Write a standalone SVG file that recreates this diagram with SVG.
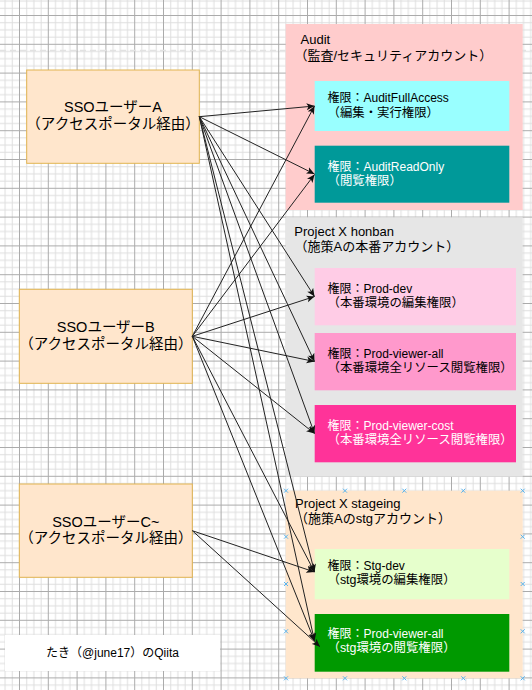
<svg xmlns="http://www.w3.org/2000/svg" width="532" height="690" viewBox="0 0 532 690">
<style>
.t{font-family:"Liberation Sans","Noto Sans CJK JP",sans-serif;font-size:12px;fill:#000}
.j{font-size:12.4px}
.w{fill:#fff}
.s{font-size:14.5px}
.h{font-size:13px}
.c{text-anchor:middle}
.e{fill:none;stroke:#222;stroke-width:1;marker-end:url(#ar)}
.x{stroke:#5ab4ee;stroke-width:1;fill:none}
.sso{fill:#ffe6cc;stroke:#e2b450;stroke-width:1}
</style>
<defs>
<pattern id="gm" x="19" y="15" width="28.8" height="28.8" patternUnits="userSpaceOnUse">
<path d="M7.7 0V28.8M14.9 0V28.8M22.1 0V28.8M0 7.7H28.8M0 14.9H28.8M0 22.1H28.8" stroke="#dedede" stroke-width="1"/>
<path d="M0.5 0V28.8M0 0.5H28.8" stroke="#ababab" stroke-width="1"/>
</pattern>
<marker id="ar" markerWidth="9" markerHeight="8" refX="8" refY="4" orient="auto" markerUnits="userSpaceOnUse">
<path d="M0,0.5 L8,4 L0,7.5 L2,4 z" fill="#111"/>
</marker>
</defs>
<rect width="532" height="690" fill="#fff"/>
<rect width="532" height="690" fill="url(#gm)"/>
<path d="M0 50.5H532" stroke="#e2e2e2" stroke-width="1.5" stroke-dasharray="6 4"/>

<g id="audit">
<rect x="285.7" y="24" width="237" height="186" fill="#ffcccc"/>
<text class="t h" x="300.5" y="44">Audit</text>
<text class="t h" x="294.5" y="59.5">（監査/セキュリティアカウント）</text>
</g>
<g id="audit-full">
<rect x="314.7" y="81" width="194.6" height="50" fill="#99ffff"/>
<text class="t" x="327.5" y="102.3">権限：AuditFullAccess</text>
<text class="t j" x="327.5" y="116.7">（編集・実行権限）</text>
</g>
<g id="audit-read">
<rect x="314.7" y="145.7" width="194.6" height="57" fill="#009999"/>
<text class="t w" x="327.5" y="170.5">権限：AuditReadOnly</text>
<text class="t j w" x="327.5" y="185.2">（閲覧権限）</text>
</g>

<g id="honban">
<rect x="285.7" y="217.3" width="237" height="259.4" fill="#e6e6e6"/>
<text class="t h" x="294.3" y="236">Project X honban</text>
<text class="t h" x="294.5" y="251">（施策Aの本番アカウント）</text>
</g>
<g id="prod-dev">
<rect x="314.7" y="268" width="201.3" height="57.3" fill="#ffcce6"/>
<text class="t" x="327.5" y="292.7">権限：Prod-dev</text>
<text class="t j" x="327.5" y="307">（本番環境の編集権限）</text>
</g>
<g id="prod-viewer-all">
<rect x="314.7" y="333" width="201.3" height="57.3" fill="#ff99cc"/>
<text class="t" x="327.5" y="357.7">権限：Prod-viewer-all</text>
<text class="t j" x="327.5" y="372.3">（本番環境全リソース閲覧権限）</text>
</g>
<g id="prod-viewer-cost">
<rect x="314.7" y="405" width="201.3" height="57.3" fill="#ff3399"/>
<text class="t w" x="327.5" y="430">権限：Prod-viewer-cost</text>
<text class="t j w" x="327.5" y="444.3">（本番環境全リソース閲覧権限）</text>
</g>

<g id="stageing">
<rect x="285.7" y="490.7" width="237" height="187.6" fill="#ffe6cc"/>
<text class="t h" x="295" y="507.5">Project X stageing</text>
<text class="t h" x="295" y="523.3">（施策Aのstgアカウント）</text>
<path class="x" d="M284 488.7l4 4m0-4l-4 4M343 488.7l4 4m0-4l-4 4M402.3 488.7l4 4m0-4l-4 4M461.3 488.7l4 4m0-4l-4 4M520.7 488.7l4 4m0-4l-4 4M284 676.3l4 4m0-4l-4 4M343 676.3l4 4m0-4l-4 4M402.3 676.3l4 4m0-4l-4 4M461.3 676.3l4 4m0-4l-4 4M520.7 676.3l4 4m0-4l-4 4M284 534.7l4 4m0-4l-4 4M284 582l4 4m0-4l-4 4M284 629.3l4 4m0-4l-4 4M520.7 534.7l4 4m0-4l-4 4M520.7 582l4 4m0-4l-4 4M520.7 629.3l4 4m0-4l-4 4"/>
</g>
<g id="stg-dev">
<rect x="314.7" y="549" width="194.6" height="50.3" fill="#e6ffcc"/>
<text class="t" x="327.5" y="570">権限：Stg-dev</text>
<text class="t j" x="327.5" y="584.3">（stg環境の編集権限）</text>
</g>
<g id="stg-viewer-all">
<rect x="314.7" y="614" width="194.6" height="57.7" fill="#009900"/>
<text class="t w" x="327.5" y="638">権限：Prod-viewer-all</text>
<text class="t j w" x="327.5" y="652.3">（stg環境の閲覧権限）</text>
</g>

<g id="sso-a">
<rect class="sso" x="26.7" y="70" width="172.6" height="93.3"/>
<text class="t s c" x="113" y="111.7">SSOユーザーA</text>
<text class="t s c" x="113" y="129.3">（アクセスポータル経由）</text>
</g>
<g id="sso-b">
<rect class="sso" x="19.3" y="289.3" width="173" height="94"/>
<text class="t s c" x="105.8" y="331.7">SSOユーザーB</text>
<text class="t s c" x="105.8" y="349">（アクセスポータル経由）</text>
</g>
<g id="sso-c">
<rect class="sso" x="19.3" y="484" width="173" height="93.3"/>
<text class="t s c" x="105.8" y="526.7">SSOユーザーC~</text>
<text class="t s c" x="105.8" y="543">（アクセスポータル経由）</text>
</g>
<g id="credit">
<rect x="5" y="635" width="215" height="36" fill="#fff"/>
<text class="t c" x="112.5" y="656.7">たき（@june17）のQiita</text>
</g>

<g id="connectors">
<path class="e" d="M199.3 116.7L314.5 106"/>
<path class="e" d="M199.3 116.7L314.5 174"/>
<path class="e" d="M199.3 116.7L314.5 296.5"/>
<path class="e" d="M199.3 116.7L314.5 361.5"/>
<path class="e" d="M199.3 116.7L314.5 433.5"/>
<path class="e" d="M199.3 116.7L314.5 572"/>
<path class="e" d="M199.3 116.7L314.5 641"/>
<path class="e" d="M192.3 336.3L314.5 106"/>
<path class="e" d="M192.3 336.3L314.5 174.5"/>
<path class="e" d="M192.3 336.3L314.5 296.5"/>
<path class="e" d="M192.3 336.3L314.5 361.5"/>
<path class="e" d="M192.3 336.3L314.5 433.5"/>
<path class="e" d="M192.3 336.3L314.5 572"/>
<path class="e" d="M192.3 336.3L314.5 641"/>
<path class="e" d="M192.3 530.7L314.5 572"/>
<path class="e" d="M192.3 530.7L320 646.7"/>
</g>
</svg>
